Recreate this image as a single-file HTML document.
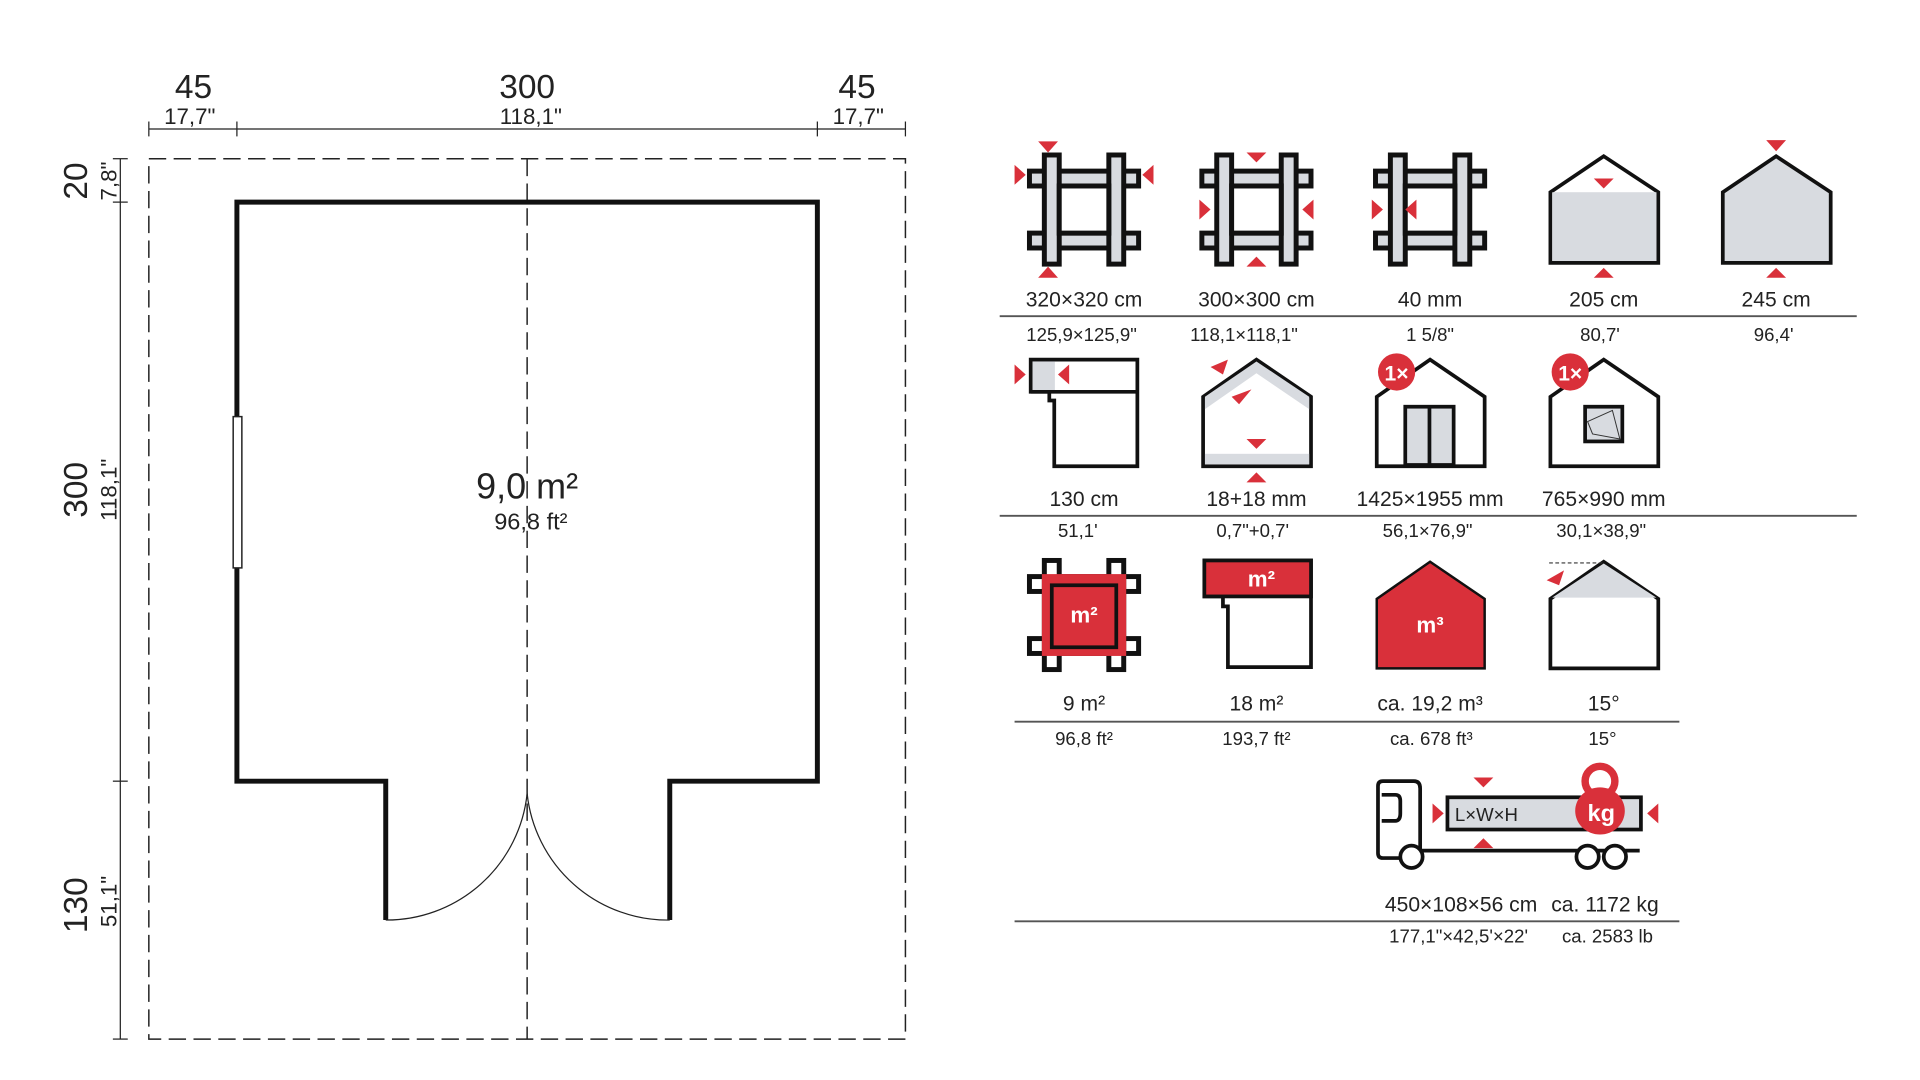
<!DOCTYPE html>
<html><head><meta charset="utf-8"><style>
html,body{margin:0;padding:0;background:#fff;}
svg{display:block}
text{font-family:"Liberation Sans",sans-serif;fill:#222;}
</style></head><body>
<svg width="1920" height="1080" viewBox="0 0 1548 871" preserveAspectRatio="none" xmlns="http://www.w3.org/2000/svg">
<defs>
<g id="frame">
 <rect x="-44" y="-31" width="88" height="12" fill="#d8dbe0" stroke="#111" stroke-width="4"/>
 <rect x="-44" y="19" width="88" height="12" fill="#d8dbe0" stroke="#111" stroke-width="4"/>
 <rect x="-32" y="-44" width="12" height="88" fill="#d8dbe0" stroke="#111" stroke-width="4"/>
 <rect x="20" y="-44" width="12" height="88" fill="#d8dbe0" stroke="#111" stroke-width="4"/>
 <rect x="-20" y="-19" width="40" height="38" fill="#fff" stroke="#111" stroke-width="4"/>
</g>
</defs>
<g stroke="#222" fill="none">
 <line x1="120" y1="104" x2="730" y2="104" stroke-width="1"/>
 <line x1="120" y1="98" x2="120" y2="110"/><line x1="191" y1="98" x2="191" y2="110"/>
 <line x1="659" y1="98" x2="659" y2="110"/><line x1="730" y1="98" x2="730" y2="110"/>
 <line x1="97" y1="128" x2="97" y2="838" stroke-width="1"/>
 <line x1="91" y1="128" x2="103" y2="128"/><line x1="91" y1="163" x2="103" y2="163"/>
 <line x1="91" y1="630" x2="103" y2="630"/><line x1="91" y1="838" x2="103" y2="838"/>
 <rect x="120" y="128" width="610" height="710" stroke-dasharray="14 6" stroke-width="1.2"/>
 <line x1="425" y1="128" x2="425" y2="838" stroke-dasharray="14 6" stroke-width="1.2"/>
 <path d="M311 742 V630 H191 V163 H659 V630 H540 V742" stroke="#111" stroke-width="4"/>
 <path d="M311 742 A114 114 0 0 0 425 640 M540 742 A114 114 0 0 1 425 640" stroke-width="1"/>
 <rect x="188" y="336" width="7" height="122" fill="#fff" stroke-width="1.2"/>
</g>
<text x="156" y="79" font-size="27" text-anchor="middle">45</text>
<text x="153" y="100" font-size="18" text-anchor="middle">17,7"</text>
<text x="425" y="79" font-size="27" text-anchor="middle">300</text>
<text x="428" y="100" font-size="18" text-anchor="middle">118,1"</text>
<text x="691" y="79" font-size="27" text-anchor="middle">45</text>
<text x="692" y="100" font-size="18" text-anchor="middle">17,7"</text>
<g font-size="27" text-anchor="middle">
<text transform="translate(70,146) rotate(-90)">20</text>
<text transform="translate(70,395) rotate(-90)">300</text>
<text transform="translate(70,730) rotate(-90)">130</text>
</g>
<g font-size="18" text-anchor="middle">
<text transform="translate(94,146) rotate(-90)">7,8"</text>
<text transform="translate(94,395) rotate(-90)">118,1"</text>
<text transform="translate(94,727) rotate(-90)">51,1"</text>
</g>
<text x="425" y="402" font-size="29" text-anchor="middle">9,0 m²</text>
<text x="428" y="427" font-size="19" text-anchor="middle">96,8 ft²</text>

<!-- row1 -->
<use href="#frame" x="874" y="169"/>
<use href="#frame" x="1013" y="169"/>
<use href="#frame" x="1153" y="169"/>
<g fill="#d9303a">
 <path d="M837 114 h16 l-8 9z M837 224 h16 l-8 -9z M818 133 v16 l9 -8z M930 133 v16 l-9 -8z"/>
 <path d="M1005 123 h16 l-8 8z M1005 215 h16 l-8 -8z M967 161 v16 l9 -8z M1059 161 v16 l-9 -8z"/>
 <path d="M1106 161 v16 l9 -8z M1142 161 v16 l-9 -8z"/>
</g>
<path d="M1250 212 V155 L1293 126 L1337 155 V212 Z" fill="#fff" stroke="#111" stroke-width="3"/>
<rect x="1251.5" y="155" width="84" height="55.5" fill="#d8dbe0"/>
<path d="M1285 144 h16 l-8 8z M1285 224 h16 l-8 -8z" fill="#d9303a"/>
<path d="M1389 212 V155 L1432 126 L1476 155 V212 Z" fill="#d8dbe0" stroke="#111" stroke-width="3"/>
<path d="M1424 113 h16 l-8 9z M1424 224 h16 l-8 -8z" fill="#d9303a"/>
<g font-size="17" text-anchor="middle">
<text x="874" y="247">320×320 cm</text><text x="1013" y="247">300×300 cm</text><text x="1153" y="247">40 mm</text><text x="1293" y="247">205 cm</text><text x="1432" y="247">245 cm</text>
</g>
<line x1="806" y1="255" x2="1497" y2="255" stroke="#555" stroke-width="1.5"/>
<g font-size="15" text-anchor="middle">
<text x="872" y="275">125,9×125,9"</text><text x="1003" y="275">118,1×118,1"</text><text x="1153" y="275">1 5/8"</text><text x="1290" y="275">80,7'</text><text x="1430" y="275">96,4'</text>
</g>

<!-- row2 -->
<path d="M831 290 H917 V376 H850 V323 H846 V316 H831 Z" fill="#fff" stroke="#111" stroke-width="3"/>
<rect x="832.5" y="291.5" width="18" height="24" fill="#d8dbe0"/>
<line x1="831" y1="316" x2="917" y2="316" stroke="#111" stroke-width="3"/>
<path d="M818 294 v16 l9 -8z M862 294 v16 l-9 -8z" fill="#d9303a"/>
<path d="M970 376 V320 L1013 290 L1057 320 V376 Z" fill="#fff" stroke="#111" stroke-width="3"/>
<path d="M971.5 330 L1013 301 L1055.5 330 V320 L1013 291.5 L971.5 320 Z" fill="#d8dbe0"/>
<rect x="971.5" y="366" width="84" height="8.5" fill="#d8dbe0"/>
<path d="M976 296 l14 -6 l-4 12z M993 320 l16 -6 l-10 12z M1005 354 h16 l-8 8z M1005 389 h16 l-8 -8z" fill="#d9303a"/>
<path d="M1110 376 V320 L1153 290 L1197 320 V376 Z" fill="#fff" stroke="#111" stroke-width="3"/>
<rect x="1133" y="328" width="39" height="47" fill="#d8dbe0" stroke="#111" stroke-width="3"/>
<line x1="1152.5" y1="328" x2="1152.5" y2="375" stroke="#111" stroke-width="3"/>
<circle cx="1126" cy="300" r="15" fill="#d9303a"/>
<text x="1126" y="307" font-size="17" font-weight="bold" text-anchor="middle" style="fill:#fff">1×</text>
<path d="M1250 376 V320 L1293 290 L1337 320 V376 Z" fill="#fff" stroke="#111" stroke-width="3"/>
<rect x="1278" y="328" width="30" height="28" fill="#d8dbe0" stroke="#111" stroke-width="3"/>
<path d="M1280 340 L1300 331 L1306 354 L1284 350 Z" fill="none" stroke="#333" stroke-width="0.8"/>
<circle cx="1266" cy="300" r="15" fill="#d9303a"/>
<text x="1266" y="307" font-size="17" font-weight="bold" text-anchor="middle" style="fill:#fff">1×</text>
<g font-size="17" text-anchor="middle">
<text x="874" y="408">130 cm</text><text x="1013" y="408">18+18 mm</text><text x="1153" y="408">1425×1955 mm</text><text x="1293" y="408">765×990 mm</text>
</g>
<line x1="806" y1="416" x2="1497" y2="416" stroke="#555" stroke-width="1.5"/>
<g font-size="15" text-anchor="middle">
<text x="869" y="433">51,1'</text><text x="1010" y="433">0,7"+0,7'</text><text x="1151" y="433">56,1×76,9"</text><text x="1291" y="433">30,1×38,9"</text>
</g>

<!-- row3 -->
<g transform="translate(874,496)">
 <rect x="-44" y="-31" width="88" height="12" fill="#fff" stroke="#111" stroke-width="4"/>
 <rect x="-44" y="19" width="88" height="12" fill="#fff" stroke="#111" stroke-width="4"/>
 <rect x="-32" y="-44" width="12" height="88" fill="#fff" stroke="#111" stroke-width="4"/>
 <rect x="20" y="-44" width="12" height="88" fill="#fff" stroke="#111" stroke-width="4"/>
 <rect x="-34" y="-33" width="68" height="66" fill="#d9303a"/>
 <rect x="-26" y="-24" width="52" height="50" fill="#d9303a" stroke="#111" stroke-width="3"/>
 <text x="0" y="6" font-size="18" font-weight="bold" text-anchor="middle" style="fill:#fff">m²</text>
</g>
<path d="M971 452 H1057 V538 H990 V489 H986 V481 H971 Z" fill="#fff" stroke="#111" stroke-width="3"/>
<rect x="971" y="452" width="86" height="29" fill="#d9303a" stroke="#111" stroke-width="3"/>
<text x="1017" y="473" font-size="18" font-weight="bold" text-anchor="middle" style="fill:#fff">m²</text>
<path d="M1110 539 V483 L1153 453 L1197 483 V539 Z" fill="#d9303a" stroke="#111" stroke-width="2"/>
<text x="1153" y="510" font-size="18" font-weight="bold" text-anchor="middle" style="fill:#fff">m³</text>
<path d="M1250 539 V483 L1293 453 L1337 483 V539 Z" fill="#fff" stroke="#111" stroke-width="3"/>
<path d="M1251.5 482 L1293 454.5 L1335.5 482 Z" fill="#d8dbe0"/>
<line x1="1249" y1="454" x2="1293" y2="454" stroke="#333" stroke-width="1" stroke-dasharray="3 2"/>
<path d="M1247 468 l14 -8 l-4 12z" fill="#d9303a"/>
<g font-size="17" text-anchor="middle">
<text x="874" y="573">9 m²</text><text x="1013" y="573">18 m²</text><text x="1153" y="573">ca. 19,2 m³</text><text x="1293" y="573">15°</text>
</g>
<line x1="818" y1="582" x2="1354" y2="582" stroke="#555" stroke-width="1.5"/>
<g font-size="15" text-anchor="middle">
<text x="874" y="601">96,8 ft²</text><text x="1013" y="601">193,7 ft²</text><text x="1154" y="601">ca. 678 ft³</text><text x="1292" y="601">15°</text>
</g>

<!-- truck -->
<g stroke="#111" fill="none" stroke-width="3">
 <path d="M1139 692 H1115 Q1111 692 1111 688 V634 Q1111 630 1115 630 H1140 Q1145 630 1145 636 V686 M1145 686 H1322"/>
 <path d="M1114 641 H1125 Q1129 641 1129 646 V656 Q1129 662 1125 662 H1114"/>
 <rect x="1167" y="643" width="156" height="26" fill="#d8dbe0"/>
 <circle cx="1138" cy="691" r="9" fill="#fff"/>
 <circle cx="1280" cy="691" r="9" fill="#fff"/>
 <circle cx="1302" cy="691" r="9" fill="#fff"/>
</g>
<text x="1173" y="662" font-size="15">L×W×H</text>
<circle cx="1290" cy="630" r="12" fill="none" stroke="#d9303a" stroke-width="6"/>
<ellipse cx="1290" cy="654" rx="20" ry="19" fill="#d9303a"/>
<text x="1291" y="662" font-size="19" font-weight="bold" text-anchor="middle" style="fill:#fff">kg</text>
<path d="M1188 627 h16 l-8 8z M1188 684 h16 l-8 -8z M1155 648 v16 l9 -8z M1337 648 v16 l-9 -8z" fill="#d9303a"/>
<text x="1178" y="735" font-size="17" text-anchor="middle">450×108×56 cm</text>
<text x="1294" y="735" font-size="17" text-anchor="middle">ca. 1172 kg</text>
<line x1="818" y1="743" x2="1354" y2="743" stroke="#555" stroke-width="1.5"/>
<text x="1176" y="760" font-size="15" text-anchor="middle">177,1"×42,5'×22'</text>
<text x="1296" y="760" font-size="15" text-anchor="middle">ca. 2583 lb</text>
</svg>
</body></html>
